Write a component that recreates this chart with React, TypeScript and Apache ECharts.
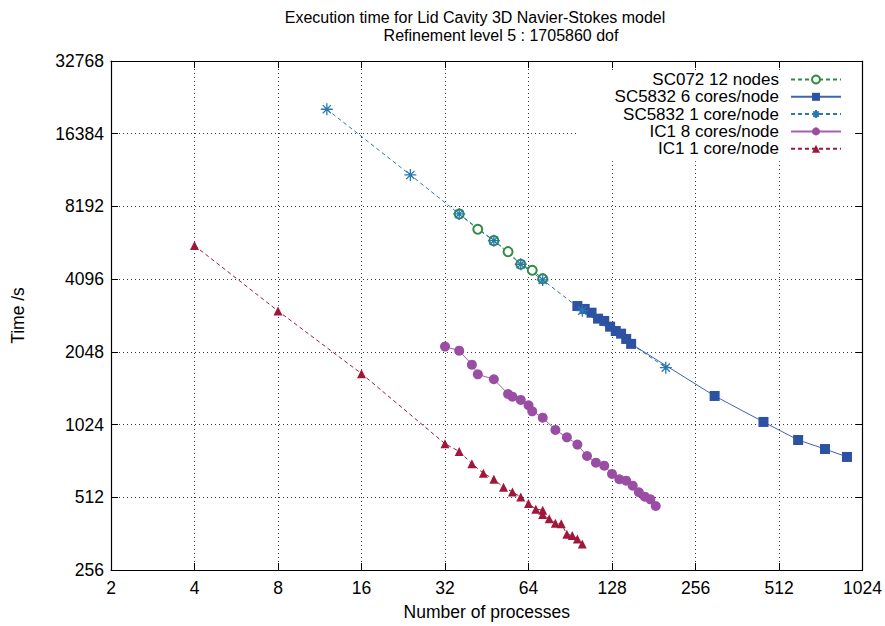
import React, { useEffect, useRef } from "react";
import * as echarts from "echarts";

const titleLine1 = "Execution time for Lid Cavity 3D Navier-Stokes model";
const titleLine2 = "Refinement level 5 : 1705860 dof";
const xName = "Number of processes";
const yName = "Time /s";

const xTicks = [2, 4, 8, 16, 32, 64, 128, 256, 512, 1024];
const yTicks = [256, 512, 1024, 2048, 4096, 8192, 16384, 32768];

const seriesNames = [
  "SC072 12 nodes",
  "SC5832 6 cores/node",
  "SC5832 1 core/node",
  "IC1 8 cores/node",
  "IC1 1 core/node",
];

const sc072X = [36, 42, 48, 54, 60, 66, 72];
const sc072Y = [7625, 6590, 5913, 5323, 4720, 4457, 4115];

const sc5832sixX = [96, 102, 108, 114, 120, 126, 132, 138, 144, 150, 300, 450, 600, 750, 900];
const sc5832sixY = [3170, 3083, 2975, 2811, 2750, 2604, 2499, 2436, 2316, 2210, 1345, 1050, 884, 811, 752];

const sc5832oneX = [12, 24, 36, 48, 60, 72, 100, 200];
const sc5832oneY = [20690, 11060, 7625, 5913, 4720, 4066, 3034, 1762];

const ic1eightX = [32, 36, 40, 42, 48, 54, 56, 60, 64, 66, 72, 80, 88, 96, 104, 112, 120, 128, 136, 144, 152, 160, 168, 176, 184];
const ic1eightY = [2153, 2071, 1813, 1653, 1577, 1371, 1336, 1295, 1231, 1162, 1094, 973, 907, 846, 759, 712, 692, 640, 608, 600, 572, 537, 515, 502, 471];

const ic1oneX = [4, 8, 16, 32, 36, 40, 44, 48, 52, 56, 60, 64, 68, 72, 72, 76, 80, 84, 88, 92, 96, 100];
const ic1oneY = [5638, 3025, 1664, 853, 793, 705, 644, 608, 563, 539, 513, 483, 457, 453, 434, 417, 400, 398, 360, 356, 344, 328];

const FONT = "Liberation Sans, Arial, Helvetica, sans-serif";
const LABEL_SIZE = 17.5;

const zip = (xs: number[], ys: number[]) => xs.map((x, i) => [x, ys[i]]);

const ASTERISK = "path://M5,0L5,10M0,5L10,5M1.6,1.6L8.4,8.4M8.4,1.6L1.6,8.4";

export default function App() {
  const ref = useRef<HTMLDivElement>(null);
  useEffect(() => {
    if (!ref.current) return;
    const chart = echarts.init(ref.current, null, { renderer: "svg" });
    const grid = "#3a3a3a";
    const baseAxis = (pos: string, show: boolean, isX: boolean) => ({
      type: "log",
      logBase: 2,
      position: pos,
      min: isX ? xTicks[0] : yTicks[0],
      max: isX ? xTicks[xTicks.length - 1] : yTicks[yTicks.length - 1],
      interval: 1,
      axisLine: { show: true, lineStyle: { color: "#000", width: 1.2 } },
      axisTick: { show: true, inside: true, length: 7, lineStyle: { color: "#000" } },
      minorTick: { show: false },
      axisLabel: {
        show,
        color: "#000",
        fontFamily: FONT,
        fontSize: LABEL_SIZE,
        margin: isX ? 9 : 7,
        formatter: (v: number) => String(Math.round(v)),
      },
      splitLine: show
        ? { show: true, lineStyle: { color: grid, type: [1, 3], width: 1 } }
        : { show: false },
    });
    const dashed = [4, 3];
    chart.setOption({
      animation: false,
      backgroundColor: "#fff",
      title: [
        {
          text: titleLine1,
          left: 475,
          top: 9,
          padding: 0,
          textAlign: "center",
          textStyle: { fontFamily: FONT, fontSize: 16, fontWeight: "normal", color: "#000" },
        },
        {
          text: titleLine2,
          left: 501,
          top: 27,
          padding: 0,
          textAlign: "center",
          textStyle: { fontFamily: FONT, fontSize: 16, fontWeight: "normal", color: "#000" },
        },
      ],
      grid: { left: 111, right: 22, top: 61, bottom: 56, containLabel: false },
      xAxis: [
        {
          ...baseAxis("bottom", true, true),
          name: xName,
          nameLocation: "middle",
          nameGap: 33,
          nameTextStyle: { fontFamily: FONT, fontSize: LABEL_SIZE, color: "#000" },
        },
        { ...baseAxis("top", false, true), gridIndex: 0 },
      ],
      yAxis: [
        {
          ...baseAxis("left", true, false),
          name: yName,
          nameLocation: "middle",
          nameGap: 84,
          nameTextStyle: { fontFamily: FONT, fontSize: LABEL_SIZE, color: "#000" },
        },
        { ...baseAxis("right", false, false), gridIndex: 0 },
      ],
      legend: {
        orient: "vertical",
        right: 33,
        top: 70,
        align: "right",
        itemWidth: 50,
        itemHeight: 10,
        itemGap: 0.3,
        padding: [1, 10, 4, 38],
        backgroundColor: "#fff",
        textStyle: {
          fontFamily: FONT,
          fontSize: 17,
          color: "#000",
          lineHeight: 17,
          padding: [0, 7, 0, 0],
        },
        data: seriesNames,
      },
      series: [
        {
          name: seriesNames[0],
          type: "line",
          data: zip(sc072X, sc072Y),
          symbol: "emptyCircle",
          symbolSize: 9,
          color: "#2f8c45",
          itemStyle: { color: "#2f8c45", borderWidth: 1.2 },
          lineStyle: { color: "#2f8c45", width: 1, type: dashed },
        },
        {
          name: seriesNames[1],
          type: "line",
          data: zip(sc5832sixX, sc5832sixY),
          symbol: "rect",
          symbolSize: 10,
          color: "#2d52a3",
          itemStyle: { color: "#2d52a3" },
          lineStyle: { color: "#3f63b5", width: 1, type: "solid" },
        },
        {
          name: seriesNames[2],
          type: "line",
          data: zip(sc5832oneX, sc5832oneY),
          symbol: ASTERISK,
          symbolSize: 12,
          color: "#2a78b0",
          itemStyle: { color: "#2a78b0", borderColor: "#2a78b0", borderWidth: 1.3 },
          lineStyle: { color: "#2a78b0", width: 1, type: dashed },
        },
        {
          name: seriesNames[3],
          type: "line",
          data: zip(ic1eightX, ic1eightY),
          symbol: "circle",
          symbolSize: 10,
          color: "#994ea3",
          itemStyle: { color: "#994ea3" },
          lineStyle: { color: "#a460ad", width: 1, type: "solid" },
        },
        {
          name: seriesNames[4],
          type: "line",
          data: zip(ic1oneX, ic1oneY),
          symbol: "triangle",
          symbolSize: 9,
          color: "#a0173b",
          itemStyle: { color: "#a0173b" },
          lineStyle: { color: "#a0173b", width: 1, type: dashed },
        },
      ],
    });
    return () => chart.dispose();
  }, []);
  return (
    <div
      ref={ref}
      style={{ position: "absolute", left: 0, top: 0, width: 885, height: 626 }}
    />
  );
}
